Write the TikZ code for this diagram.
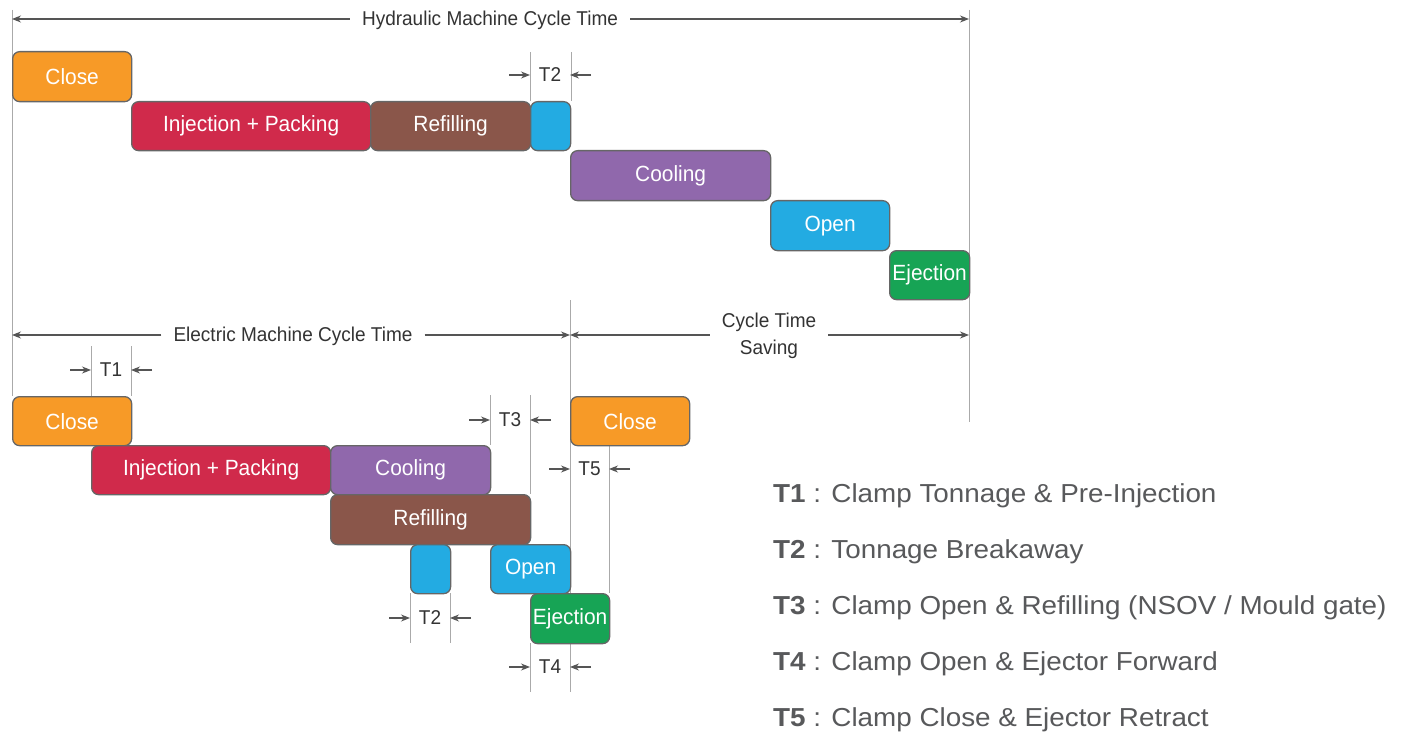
\documentclass[tikz,border=0pt]{standalone}
\usepackage{fontspec}
\setmainfont{Liberation Sans}[FakeStretch=0.95]
\newfontfamily\legfont{Liberation Sans}[FakeStretch=1.07]
\usetikzlibrary{arrows.meta,calc}
\definecolor{corange}{HTML}{F79A27}
\definecolor{ccrimson}{HTML}{D02A4B}
\definecolor{cbrown}{HTML}{8A564A}
\definecolor{cblue}{HTML}{23ABE2}
\definecolor{cpurple}{HTML}{9068AC}
\definecolor{cgreen}{HTML}{17A455}
\definecolor{boxedge}{HTML}{666666}
\definecolor{guidegray}{HTML}{AAAAAA}
\definecolor{dimgray}{HTML}{555555}
\definecolor{txtdark}{HTML}{333333}
\definecolor{leggray}{HTML}{58595B}
\newcommand\tdim[5]{%
  \coordinate (#1a) at (#2,#4);
  \coordinate (#1b) at (#3,#4);
  \node[lbl] (#1) at ({(#2+#3)/2},#4) {#5};
  \draw[dim] ($(#1a)+(-21,0)$) -- (#1a);
  \draw[dim] ($(#1b)+(21,0)$) -- (#1b);
}
\begin{document}
\begin{tikzpicture}[x=1pt,y=-1pt,
  box/.style={draw=boxedge, line width=1.3pt, rounded corners=7pt, inner sep=0pt,
    text=white, font=\fontsize{22}{24}\selectfont, anchor=north west},
  guide/.style={draw=guidegray, line width=1pt},
  dim/.style={draw=dimgray, line width=1.1pt, -{Stealth[length=9pt,width=7pt]}},
  lbl/.style={text=txtdark, font=\fontsize{20}{22}\selectfont, inner sep=0pt},
  gaplbl/.style={text=txtdark, font=\fontsize{20}{22}\selectfont, inner xsep=12pt, inner ysep=0pt, align=center},
  leg/.style={text=leggray, font=\legfont\fontsize{26}{28}\selectfont, anchor=west, inner sep=0pt}]
\useasboundingbox (0,0) rectangle (1405,738);
\fill[white] (0,0) rectangle (1405,738);

% guide lines
\coordinate (gL1) at (12,10);  \coordinate (gL2) at (12,396);
\coordinate (gR1) at (969,10); \coordinate (gR2) at (969,422);
\coordinate (gM1) at (570,300); \coordinate (gM2) at (570,692);
\draw[guide] (gL1) -- (gL2);
\draw[guide] (gR1) -- (gR2);
\draw[guide] (gM1) -- (gM2);

% hydraulic boxes
\node[box, fill=corange, minimum width=119, minimum height=50] (hclose) at (12,51) {Close};
\node[box, fill=ccrimson, minimum width=239, minimum height=49] (hinj) at (131,101) {Injection + Packing};
\node[box, fill=cbrown, minimum width=160, minimum height=49] (hrefill) at (370,101) {Refilling};
\node[box, fill=cblue, minimum width=40, minimum height=49] (ht2) at (530,101) {};
\node[box, fill=cpurple, minimum width=200, minimum height=50] (hcool) at (570,150) {Cooling};
\node[box, fill=cblue, minimum width=119, minimum height=50] (hopen) at (770,200) {Open};
\node[box, fill=cgreen, minimum width=80, minimum height=49] (heject) at (889,250) {Ejection};

% top T2 guides
\draw[guide] (ht2.north west) -- ++(0,-49);
\draw[guide] (ht2.north east) -- ++(0,-49);
\tdim{tt2}{530}{570}{75}{T2}

% hydraulic cycle line
\node[gaplbl] (hlab) at (490,20) {Hydraulic Machine Cycle Time};
\coordinate (hL) at (12,19); \coordinate (hR) at (969,19);
\draw[dim] (hlab.west |- hL) -- (hL);
\draw[dim] (hlab.east |- hR) -- (hR);

% electric cycle line
\node[gaplbl] (elab) at (293,336) {Electric Machine Cycle Time};
\coordinate (eL) at (12,335); \coordinate (eR) at (570,335);
\draw[dim] (elab.west |- eL) -- (eL);
\draw[dim] (elab.east |- eR) -- (eR);

% saving
\node[gaplbl, font=\fontsize{20}{27}\selectfont] (slab) at (769,336) {Cycle Time\\Saving};
\coordinate (sR) at (969,335);
\draw[dim] (slab.west |- eR) -- (eR);
\draw[dim] (slab.east |- sR) -- (sR);

% electric guides (behind boxes)
\draw[guide] (91,346) -- (91,396);
\draw[guide] (131,346) -- (131,396);
\draw[guide] (490,395) -- (490,445);
\draw[guide] (530,395) -- (530,494);
\draw[guide] (609,445) -- (609,593);
\draw[guide] (410,593) -- (410,643);
\draw[guide] (450,593) -- (450,643);
\draw[guide] (530,643) -- (530,692);

% electric boxes
\node[box, fill=corange, minimum width=119, minimum height=49] (eclose) at (12,396) {Close};
\node[box, fill=ccrimson, minimum width=239, minimum height=49] (einj) at (91,445) {Injection + Packing};
\node[box, fill=cpurple, minimum width=160, minimum height=49] (ecool) at (330,445) {Cooling};
\node[box, fill=cbrown, minimum width=200, minimum height=50] (erefill) at (330,494) {Refilling};
\node[box, fill=cblue, minimum width=40, minimum height=49] (et2) at (410,544) {};
\node[box, fill=cblue, minimum width=80, minimum height=49] (eopen) at (490,544) {Open};
\node[box, fill=cgreen, minimum width=79, minimum height=50] (eeject) at (530,593) {Ejection};
\node[box, fill=corange, minimum width=119, minimum height=49] (eclose2) at (570,396) {Close};

% T marks
\tdim{t1}{91}{131}{370}{T1}
\tdim{t3}{490}{530}{420}{T3}
\tdim{t5}{570}{609}{469}{T5}
\tdim{t2b}{410}{450}{618}{T2}
\tdim{t4}{530}{570}{667}{T4}

% legend
\node[leg] (l1) at (773,496) {\textbf{T1} : Clamp Tonnage \& Pre-Injection};
\node[leg] (l2) at (773,552) {\textbf{T2} : Tonnage Breakaway};
\node[leg] (l3) at (773,608) {\textbf{T3} : Clamp Open \& Refilling (NSOV / Mould gate)};
\node[leg] (l4) at (773,664) {\textbf{T4} : Clamp Open \& Ejector Forward};
\node[leg] (l5) at (773,720) {\textbf{T5} : Clamp Close \& Ejector Retract};
\end{tikzpicture}
\end{document}
